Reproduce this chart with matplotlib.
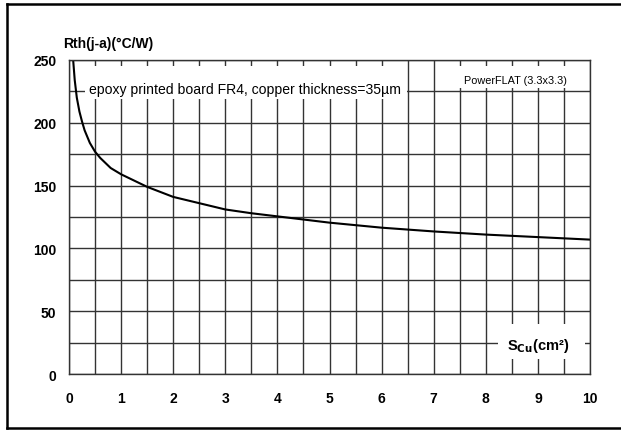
import matplotlib
matplotlib.use('Agg')
import matplotlib.pyplot as plt
from matplotlib.lines import Line2D
from matplotlib.patches import Rectangle
import numpy as np

plt.rcParams['font.family'] = ['Liberation Sans', 'DejaVu Sans']

# curve
area_cm2 = [0.08, 0.11, 0.15, 0.2, 0.25, 0.3, 0.4, 0.5, 0.6, 0.8, 1.0,
            1.5, 2.0, 2.5, 3.0, 3.5, 4.0, 5.0, 6.0, 7.0, 8.0, 9.0, 10.0]
rth = [250, 234, 220, 209, 201, 194, 184, 177, 172, 164, 159,
       149, 141, 136, 131, 128, 125.5, 120.5, 116.5, 113.5, 111, 109, 107]

x_ticks = list(range(0, 11))
y_ticks = [0, 50, 100, 150, 200, 250]

grid_col = '#333333'

fig = plt.figure(figsize=(6.21, 4.31), dpi=100)
ax = fig.add_axes([0.1111, 0.1299, 0.8390, 0.7286])

# grid every 0.5 cm2 and 25 C/W
for gx in np.arange(0, 10.01, 0.5):
    ax.axvline(gx, color=grid_col, lw=1.0, zorder=1)
for gy in np.arange(0, 250.1, 25):
    ax.axhline(gy, color=grid_col, lw=1.0, zorder=1)

ax.plot(area_cm2, rth, color='black', lw=1.5, zorder=3)

ax.set_xlim(0, 10)
ax.set_ylim(0, 250)
ax.set_xticks(x_ticks)
ax.set_yticks(y_ticks)
ax.set_xticklabels([str(v) for v in x_ticks], fontsize=10, fontweight='bold')
ax.set_yticklabels([str(v) for v in y_ticks], fontsize=10, fontweight='bold')
ax.tick_params(axis='x', length=0, pad=12)
ax.tick_params(axis='y', length=0, pad=9)
for s in ax.spines.values():
    s.set_color(grid_col)
    s.set_linewidth(1.0)
    s.set_zorder(5)

# white label boxes cutting the grid
ax.add_patch(Rectangle((0.31, 219), 6.18, 26.4, facecolor='white',
                       edgecolor='none', zorder=2))
ax.add_patch(Rectangle((7.04, 227.5), 2.92, 17.5, facecolor='white',
                       edgecolor='none', zorder=2))
ax.add_patch(Rectangle((8.23, 11.9), 1.67, 27.9, facecolor='white',
                       edgecolor='none', zorder=2))

ax.text(0.38, 223.7, 'epoxy printed board FR4, copper thickness=35\u00b5m',
        fontsize=10.1, va='baseline', ha='left', zorder=4)
ax.text(8.56, 231.7, 'PowerFLAT (3.3x3.3)', fontsize=7.8, va='baseline',
        ha='center', zorder=4)
ax.text(9.0, 19.9, 'S$_{\\mathbf{Cu}}$(cm\u00b2)', fontsize=10.5,
        fontweight='bold', va='baseline', ha='center', zorder=4)

fig.text(0.1015, 0.899, 'Rth(j-a)(\u00b0C/W)', fontsize=10, fontweight='bold',
         ha='left', va='center')

# outer frame (top, left, bottom)
fig.add_artist(Line2D([0.011, 1.01], [0.989, 0.989], color='black', lw=1.8))
fig.add_artist(Line2D([0.011, 0.011], [0.004, 0.989], color='black', lw=1.8))
fig.add_artist(Line2D([0.011, 1.01], [0.004, 0.004], color='black', lw=1.8))

fig.savefig('out.png', dpi=100)
